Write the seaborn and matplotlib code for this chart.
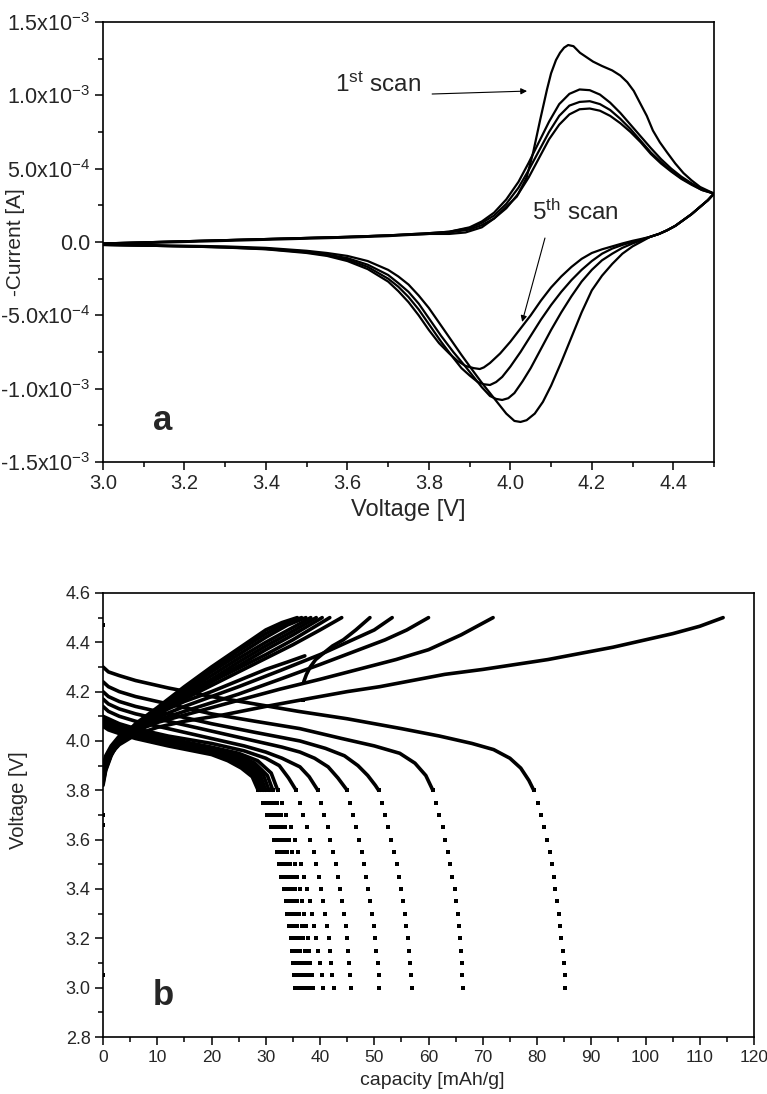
import numpy as np
import matplotlib
matplotlib.use('Agg')
import matplotlib.pyplot as plt
from matplotlib.ticker import MultipleLocator, FuncFormatter
import seaborn as sns

sns.set_theme(style='ticks')
plt.rcParams['font.family'] = ['Liberation Sans', 'DejaVu Sans']
plt.rcParams['mathtext.fontset'] = 'custom'
plt.rcParams['mathtext.rm'] = 'Liberation Sans'
plt.rcParams['mathtext.it'] = 'Liberation Sans:italic'
plt.rcParams['mathtext.bf'] = 'Liberation Sans:bold'
plt.rcParams['mathtext.default'] = 'regular'
plt.rcParams['axes.unicode_minus'] = False

# ---------------- Panel a : cyclic voltammetry (current in mA) ----------------
scan1_an_v = [3.0, 3.2, 3.4, 3.6, 3.7, 3.8, 3.85, 3.89, 3.93, 3.96, 3.99, 4.016, 4.04, 4.056, 4.073, 4.09, 4.10,
              4.112, 4.122, 4.132, 4.142, 4.155, 4.171, 4.187, 4.203, 4.225, 4.25, 4.27, 4.287, 4.303, 4.318,
              4.335, 4.35, 4.367, 4.385, 4.405, 4.425, 4.445, 4.466, 4.485, 4.5]
scan1_an_i = [-0.01, 0.005, 0.02, 0.035, 0.045, 0.055, 0.055, 0.065, 0.10, 0.16, 0.24, 0.31, 0.44, 0.61, 0.83,
              1.04, 1.15, 1.24, 1.29, 1.325, 1.343, 1.335, 1.29, 1.26, 1.23, 1.20, 1.17, 1.135, 1.09, 1.03,
              0.95, 0.86, 0.76, 0.68, 0.61, 0.535, 0.47, 0.42, 0.375, 0.35, 0.33]
scan_an_v = [3.0, 3.2, 3.4, 3.6, 3.7, 3.8, 3.85, 3.9, 3.93, 3.96, 3.99, 4.02, 4.045, 4.07, 4.095, 4.12, 4.145,
             4.17, 4.195, 4.22, 4.245, 4.27, 4.295, 4.32, 4.345, 4.37, 4.395, 4.42, 4.445, 4.47, 4.5]
scan2_an_i = [-0.01, 0.005, 0.02, 0.035, 0.045, 0.06, 0.07, 0.10, 0.14, 0.20, 0.29, 0.41, 0.54, 0.68, 0.82,
              0.94, 1.01, 1.04, 1.035, 1.005, 0.95, 0.88, 0.80, 0.72, 0.64, 0.565, 0.50, 0.445, 0.40, 0.36, 0.33]
scan3_an_i = [-0.01, 0.005, 0.02, 0.035, 0.045, 0.06, 0.07, 0.095, 0.13, 0.18, 0.26, 0.37, 0.49, 0.62, 0.75,
              0.86, 0.93, 0.955, 0.96, 0.94, 0.90, 0.84, 0.77, 0.69, 0.61, 0.545, 0.485, 0.435, 0.395, 0.355, 0.33]
scan5_an_i = [-0.015, 0.0, 0.015, 0.03, 0.04, 0.055, 0.065, 0.085, 0.115, 0.16, 0.23, 0.33, 0.44, 0.57, 0.70,
              0.80, 0.87, 0.905, 0.91, 0.895, 0.86, 0.81, 0.75, 0.68, 0.60, 0.535, 0.48, 0.43, 0.39, 0.355, 0.33]

cat_top_v = [4.5, 4.485, 4.466, 4.445, 4.425, 4.405, 4.385, 4.365, 4.343]
cat_top_i = [0.33, 0.285, 0.24, 0.19, 0.15, 0.11, 0.08, 0.055, 0.035]

scan1_cat_v = [4.32, 4.3, 4.275, 4.25, 4.225, 4.2, 4.175, 4.15, 4.125, 4.1, 4.08, 4.06, 4.04, 4.025, 4.01, 3.99,
               3.97, 3.95, 3.93, 3.91, 3.88, 3.85, 3.82, 3.8, 3.775, 3.75, 3.725, 3.7, 3.65, 3.6, 3.55, 3.5, 3.4,
               3.3, 3.2, 3.1, 3.0]
scan1_cat_i = [0.0, -0.03, -0.08, -0.15, -0.23, -0.33, -0.48, -0.65, -0.82, -0.98, -1.09, -1.17, -1.215,
               -1.227, -1.22, -1.17, -1.10, -1.03, -0.96, -0.885, -0.77, -0.65, -0.53, -0.45, -0.365, -0.29,
               -0.235, -0.19, -0.13, -0.095, -0.075, -0.06, -0.04, -0.03, -0.025, -0.02, -0.02]
scan2_cat_v = [4.32, 4.3, 4.275, 4.25, 4.225, 4.2, 4.175, 4.15, 4.125, 4.1, 4.075, 4.05, 4.03, 4.01, 3.995, 3.98,
               3.965, 3.95, 3.93, 3.91, 3.89, 3.86, 3.83, 3.8, 3.775, 3.75, 3.725, 3.7, 3.65, 3.6, 3.55, 3.5, 3.4,
               3.3, 3.2, 3.1, 3.0]
scan2_cat_i = [0.01, -0.01, -0.04, -0.08, -0.125, -0.19, -0.27, -0.37, -0.48, -0.60, -0.73, -0.86, -0.95,
               -1.03, -1.065, -1.077, -1.07, -1.05, -0.99, -0.92, -0.85, -0.75, -0.64, -0.52, -0.42, -0.34,
               -0.28, -0.225, -0.155, -0.11, -0.085, -0.065, -0.045, -0.035, -0.03, -0.025, -0.02]
scan3_cat_v = [4.32, 4.3, 4.275, 4.25, 4.225, 4.2, 4.175, 4.15, 4.125, 4.1, 4.075, 4.05, 4.025, 4.0, 3.98, 3.965,
               3.95, 3.935, 3.92, 3.9, 3.88, 3.86, 3.83, 3.8, 3.775, 3.75, 3.725, 3.7, 3.65, 3.6, 3.55, 3.5, 3.4,
               3.3, 3.2, 3.1, 3.0]
scan3_cat_i = [0.015, 0.0, -0.02, -0.045, -0.08, -0.13, -0.19, -0.26, -0.34, -0.43, -0.53, -0.64, -0.75,
               -0.85, -0.92, -0.955, -0.975, -0.97, -0.955, -0.91, -0.86, -0.79, -0.68, -0.56, -0.46, -0.375,
               -0.305, -0.25, -0.17, -0.12, -0.09, -0.07, -0.048, -0.037, -0.03, -0.025, -0.02]
scan5_cat_v = [4.32, 4.3, 4.275, 4.25, 4.225, 4.2, 4.175, 4.15, 4.125, 4.1, 4.075, 4.05, 4.025, 4.0, 3.975, 3.95,
               3.935, 3.925, 3.91, 3.89, 3.87, 3.85, 3.825, 3.8, 3.775, 3.75, 3.725, 3.7, 3.65, 3.6, 3.55, 3.5,
               3.4, 3.3, 3.2, 3.1, 3.0]
scan5_cat_i = [0.02, 0.008, -0.01, -0.03, -0.05, -0.075, -0.115, -0.17, -0.235, -0.31, -0.40, -0.50, -0.59,
               -0.68, -0.76, -0.825, -0.855, -0.866, -0.86, -0.845, -0.81, -0.76, -0.69, -0.60, -0.50, -0.41,
               -0.335, -0.27, -0.185, -0.13, -0.095, -0.075, -0.05, -0.038, -0.03, -0.025, -0.02]

# ---------------- Panel b : charge / discharge curves ----------------
steep_v = [3.80, 3.75, 3.70, 3.65, 3.60, 3.55, 3.50, 3.45, 3.40, 3.35, 3.30, 3.25, 3.20, 3.15, 3.10, 3.05, 3.00]

dis1_cap = [0, 1, 3, 6, 12, 20, 28, 36, 45, 55, 62, 68, 72, 75, 77, 78.5, 79.4]
dis1_v = [4.30, 4.28, 4.265, 4.245, 4.215, 4.18, 4.15, 4.12, 4.09, 4.05, 4.02, 3.99, 3.965, 3.93, 3.89, 3.84, 3.80]
dis1_dots = [79.4, 80.1, 80.7, 81.3, 81.8, 82.3, 82.7, 83.1, 83.4, 83.7, 84.0, 84.3, 84.5, 84.7, 84.9, 85.1, 85.2]
dis2_cap = [0, 1, 3, 6, 12, 20, 28, 36.3, 44, 50, 54.7, 57.5, 59.5, 60.8]
dis2_v = [4.24, 4.22, 4.20, 4.18, 4.15, 4.11, 4.08, 4.05, 4.01, 3.98, 3.95, 3.91, 3.86, 3.80]
dis2_dots = [60.8, 61.4, 62.0, 62.6, 63.1, 63.6, 64.0, 64.4, 64.8, 65.1, 65.4, 65.6, 65.8, 66.0, 66.1, 66.2, 66.3]
dis3_cap = [0, 1, 3, 6, 12, 20, 28, 36.3, 41, 44.5, 47, 48.8, 50.2, 50.8]
dis3_v = [4.20, 4.18, 4.16, 4.14, 4.11, 4.07, 4.035, 4.0, 3.97, 3.94, 3.90, 3.86, 3.82, 3.80]
dis3_dots = [50.8, 51.4, 52.0, 52.6, 53.1, 53.6, 54.1, 54.5, 54.9, 55.3, 55.6, 55.9, 56.2, 56.4, 56.6, 56.8, 56.9]
dis4_cap = [0, 1, 3, 6, 12, 20, 28, 33, 36.3, 39, 41.5, 43.3, 45.0]
dis4_v = [4.17, 4.15, 4.13, 4.11, 4.08, 4.04, 4.0, 3.975, 3.955, 3.93, 3.895, 3.85, 3.80]
dis4_dots = [45.0, 45.6, 46.1, 46.7, 47.2, 47.7, 48.1, 48.5, 48.9, 49.3, 49.6, 49.9, 50.2, 50.4, 50.6, 50.8, 50.9]
dis5_cap = [0, 1, 3, 6, 12, 20, 26, 30, 33, 36.3, 38.0, 39.6]
dis5_v = [4.14, 4.12, 4.10, 4.08, 4.05, 4.01, 3.98, 3.955, 3.93, 3.895, 3.855, 3.80]
dis5_dots = [39.6, 40.2, 40.8, 41.4, 41.9, 42.4, 42.9, 43.3, 43.7, 44.1, 44.4, 44.7, 45.0, 45.2, 45.4, 45.6, 45.8]
dis6_cap = [0, 1, 3, 6, 12, 20, 26, 30, 32.5, 34.2, 35.6]
dis6_v = [4.10, 4.09, 4.07, 4.05, 4.02, 3.99, 3.96, 3.93, 3.90, 3.85, 3.80]
dis6_dots = [35.6, 36.3, 36.9, 37.6, 38.2, 38.8, 39.3, 39.8, 40.2, 40.6, 41.0, 41.3, 41.6, 41.9, 42.1, 42.3, 42.5]
dis7_cap = [0, 1, 3, 6, 12, 20, 25, 28.5, 31, 32.2]
dis7_v = [4.09, 4.08, 4.06, 4.04, 4.01, 3.975, 3.95, 3.92, 3.87, 3.80]
dis7_dots = [32.2, 33.0, 33.8, 34.6, 35.3, 35.9, 36.5, 37.1, 37.6, 38.1, 38.5, 38.9, 39.3, 39.7, 40.0, 40.3, 40.5]
dis8_cap = [0, 1, 3, 6, 12, 20, 25, 28, 30.3, 31.3]
dis8_v = [4.08, 4.07, 4.055, 4.035, 4.005, 3.97, 3.94, 3.91, 3.86, 3.80]
dis8_dots = [31.3, 32.1, 32.9, 33.6, 34.2, 34.8, 35.3, 35.8, 36.3, 36.7, 37.1, 37.4, 37.7, 38.0, 38.2, 38.5, 38.7]
dis9_cap = [0, 1, 3, 6, 12, 20, 25, 27.5, 29.6, 30.6]
dis9_v = [4.075, 4.065, 4.05, 4.03, 4.0, 3.965, 3.935, 3.905, 3.86, 3.80]
dis9_dots = [30.6, 31.4, 32.2, 32.9, 33.5, 34.0, 34.5, 35.0, 35.4, 35.8, 36.2, 36.6, 36.9, 37.2, 37.4, 37.7, 37.9]
dis10_cap = [0, 1, 3, 6, 12, 20, 24.5, 27, 29, 30.0]
dis10_v = [4.07, 4.06, 4.045, 4.025, 3.995, 3.96, 3.93, 3.90, 3.86, 3.80]
dis10_dots = [30.0, 30.8, 31.6, 32.3, 32.9, 33.4, 33.9, 34.3, 34.7, 35.1, 35.5, 35.8, 36.1, 36.4, 36.7, 37.0, 37.2]
dis11_cap = [0, 1, 3, 6, 12, 20, 24, 26.5, 28.5, 29.5]
dis11_v = [4.065, 4.055, 4.04, 4.02, 3.99, 3.955, 3.93, 3.90, 3.86, 3.80]
dis11_dots = [29.5, 30.3, 31.1, 31.8, 32.4, 32.9, 33.4, 33.8, 34.2, 34.6, 34.9, 35.2, 35.5, 35.8, 36.1, 36.4, 36.6]
dis12_cap = [0, 1, 3, 6, 12, 20, 23.5, 26, 28, 29.0]
dis12_v = [4.06, 4.05, 4.035, 4.015, 3.985, 3.95, 3.925, 3.895, 3.86, 3.80]
dis12_dots = [29.0, 29.8, 30.6, 31.3, 31.9, 32.4, 32.9, 33.3, 33.7, 34.1, 34.4, 34.7, 35.0, 35.3, 35.5, 35.8, 36.0]
dis13_cap = [0, 1, 3, 6, 12, 20, 23, 25.5, 27.5, 28.6]
dis13_v = [4.06, 4.045, 4.03, 4.01, 3.98, 3.945, 3.92, 3.89, 3.855, 3.80]
dis13_dots = [28.6, 29.4, 30.2, 30.9, 31.5, 32.0, 32.5, 32.9, 33.3, 33.7, 34.0, 34.3, 34.6, 34.8, 35.0, 35.2, 35.4]

chg1_cap = [0, 0.5, 1.5, 3, 6, 10, 15, 22, 30, 38.7, 45, 51, 57, 63, 70, 76, 82, 88, 94, 100, 105, 110, 114.3]
chg1_v = [3.86, 3.91, 3.95, 3.985, 4.025, 4.055, 4.08, 4.105, 4.14, 4.175, 4.20, 4.22, 4.245, 4.27, 4.29, 4.31,
          4.33, 4.355, 4.38, 4.41, 4.435, 4.465, 4.5]
chg2_cap = [0, 0.5, 1.5, 3, 6, 10, 15, 20, 25, 32.6, 40, 47, 54, 60, 66, 71.9]
chg2_v = [3.87, 3.92, 3.96, 3.995, 4.04, 4.075, 4.105, 4.135, 4.165, 4.21, 4.25, 4.29, 4.33, 4.37, 4.43, 4.5]
chg3_cap = [0, 0.5, 1.5, 3, 6, 10, 15, 20, 25, 32.6, 40, 46, 52, 56, 60]
chg3_v = [3.87, 3.92, 3.965, 4.0, 4.045, 4.085, 4.12, 4.155, 4.19, 4.25, 4.31, 4.36, 4.41, 4.45, 4.5]
chg4_cap = [0, 0.5, 1.5, 3, 6, 10, 15, 20, 25, 32.6, 40, 46, 50, 53.3]
chg4_v = [3.87, 3.925, 3.97, 4.01, 4.055, 4.095, 4.14, 4.18, 4.22, 4.285, 4.35, 4.41, 4.45, 4.5]
chg5a_cap = [0, 0.5, 1.5, 3, 6, 10, 15, 20, 25, 30, 34, 37.2]
chg5a_v = [3.90, 3.94, 3.98, 4.02, 4.065, 4.11, 4.16, 4.20, 4.245, 4.29, 4.32, 4.345]
chg5b_cap = [37.0, 37.5, 38.2, 39.2, 40.6, 42.3, 44.3, 46.6, 49.2]
chg5b_v = [4.24, 4.27, 4.30, 4.33, 4.355, 4.385, 4.41, 4.45, 4.5]
chg6_cap = [0, 0.5, 1.5, 3, 6, 10, 15, 20, 25, 30, 35, 40, 44]
chg6_v = [3.86, 3.92, 3.965, 4.01, 4.06, 4.11, 4.17, 4.225, 4.28, 4.335, 4.39, 4.45, 4.5]
chg7_cap = [0, 0.5, 1.5, 3, 6, 10, 15, 20, 25, 30, 35, 41.8]
chg7_v = [3.86, 3.92, 3.97, 4.01, 4.065, 4.12, 4.18, 4.24, 4.295, 4.35, 4.41, 4.5]
chg8_cap = [0, 0.5, 1.5, 3, 6, 10, 15, 20, 25, 30, 35, 40.4]
chg8_v = [3.85, 3.90, 3.95, 3.99, 4.045, 4.105, 4.175, 4.24, 4.305, 4.37, 4.43, 4.5]
chg9_cap = [0, 0.5, 1.5, 3, 6, 10, 15, 20, 25, 30, 35, 39.3]
chg9_v = [3.85, 3.90, 3.95, 3.995, 4.05, 4.11, 4.185, 4.25, 4.32, 4.385, 4.445, 4.5]
chg10_cap = [0, 0.5, 1.5, 3, 6, 10, 15, 20, 25, 30, 35, 38.3]
chg10_v = [3.84, 3.895, 3.95, 3.995, 4.055, 4.12, 4.195, 4.265, 4.335, 4.40, 4.46, 4.5]
chg11_cap = [0, 0.5, 1.5, 3, 6, 10, 15, 20, 25, 30, 34, 37.4]
chg11_v = [3.84, 3.89, 3.945, 3.995, 4.06, 4.125, 4.205, 4.28, 4.35, 4.42, 4.47, 4.5]
chg12_cap = [0, 0.5, 1.5, 3, 6, 10, 15, 20, 25, 30, 33, 36.6]
chg12_v = [3.83, 3.885, 3.945, 4.0, 4.065, 4.13, 4.21, 4.29, 4.365, 4.435, 4.47, 4.5]
chg13_cap = [0, 0.5, 1.5, 3, 6, 10, 15, 20, 25, 30, 33, 35.8]
chg13_v = [3.82, 3.88, 3.94, 4.0, 4.07, 4.135, 4.22, 4.30, 4.375, 4.45, 4.48, 4.5]

stray_cap = [0, 0, 0, 0, 36.9]
stray_v = [4.47, 3.70, 3.66, 3.05, 4.165]

cv_xticks = [3.0, 3.2, 3.4, 3.6, 3.8, 4.0, 4.2, 4.4]
cap_xticks = list(range(0, 121, 10))
vb_yticks = [2.8, 3.0, 3.2, 3.4, 3.6, 3.8, 4.0, 4.2, 4.4, 4.6]

# ---------------- figure ----------------
fig = plt.figure(figsize=(7.67, 10.94), dpi=100)
ax1 = fig.add_axes([0.1343, 0.5777, 0.7966, 0.4022])
ax2 = fig.add_axes([0.1343, 0.0521, 0.8488, 0.4059])


def draw_line(ax, x, y, lw):
    sns.lineplot(x=np.asarray(x, float), y=np.asarray(y, float), sort=False, estimator=None,
                 ax=ax, color='black', lw=lw, legend=False)


# Panel a
scans = [
    (scan1_an_v, scan1_an_i, scan1_cat_v, scan1_cat_i),
    (scan_an_v, scan2_an_i, scan2_cat_v, scan2_cat_i),
    (scan_an_v, scan3_an_i, scan3_cat_v, scan3_cat_i),
    (scan_an_v, scan5_an_i, scan5_cat_v, scan5_cat_i),
]
for av, ai, cv, ci in scans:
    xs = list(av) + list(cat_top_v) + list(cv)
    ys = np.array(list(ai) + list(cat_top_i) + list(ci)) * 1e-3
    draw_line(ax1, xs, ys, 1.6)

ax1.set_xlim(3.0, 4.5)
ax1.set_ylim(-1.5e-3, 1.5e-3)
ax1.set_xticks(cv_xticks)
ax1.xaxis.set_minor_locator(MultipleLocator(0.1))
ax1.yaxis.set_major_locator(MultipleLocator(5e-4))
ax1.yaxis.set_minor_locator(MultipleLocator(2.5e-4))


def sci_fmt(v, pos):
    if abs(v) < 1e-12:
        return '0.0'
    e = int(np.floor(np.log10(abs(v)) + 1e-9))
    m = v / 10 ** e
    return f'{m:.1f}x10$^{{{e}}}$'


ax1.yaxis.set_major_formatter(FuncFormatter(sci_fmt))
ax1.xaxis.set_major_formatter(FuncFormatter(lambda v, p: f'{v:.1f}'))
ax1.tick_params(axis='x', labelsize=14.5)
ax1.tick_params(axis='y', labelsize=15.5)
ax1.set_xlabel('Voltage [V]', fontsize=17)
ax1.set_ylabel('-Current [A]', fontsize=15)
ax1.xaxis.set_label_coords(0.5, -0.085)
ax1.yaxis.set_label_coords(-0.128, 0.5)

ax1.text(3.57, 1.02e-3, '1$^{st}$ scan', fontsize=17.5, va='baseline')
ax1.annotate('', xy=(4.041, 1.029e-3), xytext=(3.808, 1.009e-3),
             arrowprops=dict(arrowstyle='-|>', color='black', lw=0.8, mutation_scale=9, shrinkA=0, shrinkB=0))
ax1.text(4.053, 0.15e-3, '5$^{th}$ scan', fontsize=17.5, va='baseline')
ax1.annotate('', xy=(4.029, -0.545e-3), xytext=(4.085, 0.027e-3),
             arrowprops=dict(arrowstyle='-|>', color='black', lw=0.8, mutation_scale=9, shrinkA=0, shrinkB=0))
ax1.text(3.123, -1.28e-3, 'a', fontsize=25, fontweight='bold', va='baseline')

# Panel b
charges = [(chg1_cap, chg1_v), (chg2_cap, chg2_v), (chg3_cap, chg3_v), (chg4_cap, chg4_v),
           (chg5a_cap, chg5a_v), (chg5b_cap, chg5b_v), (chg6_cap, chg6_v), (chg7_cap, chg7_v),
           (chg8_cap, chg8_v), (chg9_cap, chg9_v), (chg10_cap, chg10_v), (chg11_cap, chg11_v),
           (chg12_cap, chg12_v), (chg13_cap, chg13_v)]
for c, v in charges:
    draw_line(ax2, c, v, 2.6)

discharges = [(dis1_cap, dis1_v, dis1_dots), (dis2_cap, dis2_v, dis2_dots), (dis3_cap, dis3_v, dis3_dots),
              (dis4_cap, dis4_v, dis4_dots), (dis5_cap, dis5_v, dis5_dots), (dis6_cap, dis6_v, dis6_dots),
              (dis7_cap, dis7_v, dis7_dots), (dis8_cap, dis8_v, dis8_dots), (dis9_cap, dis9_v, dis9_dots),
              (dis10_cap, dis10_v, dis10_dots), (dis11_cap, dis11_v, dis11_dots),
              (dis12_cap, dis12_v, dis12_dots), (dis13_cap, dis13_v, dis13_dots)]
for c, v, d in discharges:
    draw_line(ax2, c, v, 2.6)
    sns.scatterplot(x=np.asarray(d, float), y=np.asarray(steep_v, float), marker='s', s=8,
                    color='black', linewidth=0, ax=ax2, legend=False)

sns.scatterplot(x=np.asarray(stray_cap, float), y=np.asarray(stray_v, float), marker='s', s=8,
                color='black', linewidth=0, ax=ax2, legend=False)

ax2.set_xlim(0, 120)
ax2.set_ylim(2.8, 4.6)
ax2.set_xticks(cap_xticks)
ax2.set_yticks(vb_yticks)
ax2.xaxis.set_minor_locator(MultipleLocator(5))
ax2.yaxis.set_minor_locator(MultipleLocator(0.1))
ax2.yaxis.set_major_formatter(FuncFormatter(lambda v, p: f'{v:.1f}'))
ax2.tick_params(axis='x', labelsize=12.5)
ax2.tick_params(axis='y', labelsize=13)
ax2.set_xlabel('capacity [mAh/g]', fontsize=14)
ax2.set_ylabel('Voltage [V]', fontsize=14.5)
ax2.xaxis.set_label_coords(0.505, -0.078)
ax2.yaxis.set_label_coords(-0.115, 0.534)
ax2.text(9.2, 2.93, 'b', fontsize=25, fontweight='bold', va='baseline')

for ax in (ax1, ax2):
    for sp in ax.spines.values():
        sp.set_visible(True)
        sp.set_linewidth(1.2)
        sp.set_color('black')
    ax.tick_params(which='major', direction='out', length=6, width=1.1, color='black',
                   top=False, right=False, pad=3)
    ax.tick_params(which='minor', direction='out', length=3.5, width=1.1, color='black',
                   top=False, right=False)
    ax.grid(False)
    ax.set_facecolor('white')

fig.patch.set_facecolor('white')
fig.savefig('out.png', dpi=100, facecolor='white')
